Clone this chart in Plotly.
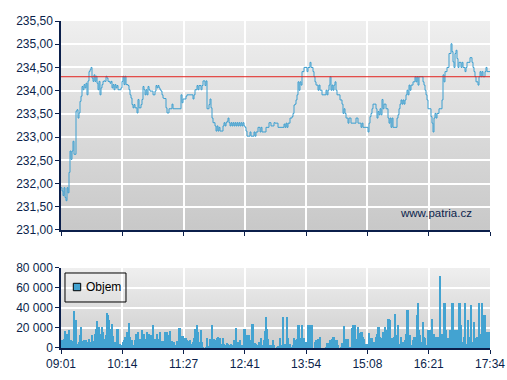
import base64
import plotly.graph_objects as go

# ---------------- data ----------------
x_tick_labels = ["09:01", "10:14", "11:27", "12:41", "13:54", "15:08", "16:21", "17:34"]
session_minutes = 513  # 09:01 -> 17:34

price_tick_values = [231.0, 231.5, 232.0, 232.5, 233.0, 233.5, 234.0, 234.5, 235.0, 235.5]
price_tick_labels = ["231,00", "231,50", "232,00", "232,50", "233,00", "233,50",
                     "234,00", "234,50", "235,00", "235,50"]
volume_tick_values = [0, 20000, 40000, 60000, 80000]
volume_tick_labels = ["0", "20 000", "40 000", "60 000", "80 000"]

reference_price = 234.30
legend_label = "Objem"
watermark = "www.patria.cz"

price = [
    231.91, 231.84, 231.74, 231.91, 231.70, 231.63, 231.91, 231.80, 232.24, 232.70,
    232.52, 232.70, 232.91, 232.63, 232.63, 233.56, 233.59, 233.41, 233.52, 233.77,
    233.88, 234.09, 234.02, 234.13, 234.06, 234.16, 233.91, 234.21, 234.41, 234.45,
    234.50, 234.27, 234.20, 234.34, 234.20, 234.31, 234.16, 234.02, 234.20, 233.91,
    234.06, 234.13, 234.20, 234.21, 234.20, 234.31, 234.27, 234.20, 234.20, 234.16,
    234.20, 234.06, 234.13, 234.02, 234.13, 234.06, 234.11, 234.02, 234.02, 234.02,
    234.06, 234.20, 234.31, 234.13, 234.31, 234.13, 234.13, 234.11, 234.02, 233.91,
    233.84, 233.70, 233.63, 233.70, 233.63, 233.63, 233.52, 233.81, 233.63, 233.63,
    233.70, 233.81, 234.09, 234.02, 233.91, 234.02, 233.91, 234.09, 234.02, 233.99,
    233.99, 233.99, 233.91, 233.91, 233.99, 234.11, 234.06, 234.11, 234.06, 234.02,
    233.99, 233.91, 233.84, 233.83, 233.83, 233.63, 233.52, 233.52,
    233.61, 233.61, 233.61, 233.71, 233.61, 233.61, 233.61, 233.61, 233.61, 233.61,
    233.61, 233.61, 233.91, 233.74, 233.82, 233.82, 233.82, 233.88, 233.91, 233.91,
    233.91, 233.91, 233.91, 233.91, 233.82, 233.91, 234.02, 234.02, 234.11, 234.02,
    234.11, 234.11, 234.02, 234.11, 234.21, 234.21, 234.11, 234.21, 233.61, 233.61,
    233.70, 233.82, 233.63, 233.41, 233.31, 233.31, 233.24, 233.13, 233.24, 233.13,
    233.21, 233.13, 233.13, 233.13, 233.24, 233.31, 233.24, 233.31, 233.34, 233.41,
    233.31, 233.24, 233.31, 233.24, 233.31, 233.24, 233.31, 233.24, 233.31, 233.24,
    233.31, 233.24, 233.31, 233.24, 233.31, 233.24, 233.21, 233.13, 233.02, 233.02,
    233.02, 233.11, 233.02, 233.02, 233.02, 233.11, 233.02, 233.11, 233.11, 233.21,
    233.21, 233.11, 233.21, 233.11, 233.11, 233.11, 233.11, 233.21, 233.21, 233.21,
    233.31, 233.31, 233.24, 233.24, 233.24, 233.31,
    233.30, 233.30, 233.30, 233.21, 233.21, 233.21, 233.21, 233.21, 233.21, 233.28,
    233.21, 233.30, 233.21, 233.30, 233.30, 233.41, 233.41, 233.44, 233.51, 233.69,
    233.71, 233.80, 233.91, 234.19, 234.01, 234.19, 234.12, 234.41, 234.41, 234.50,
    234.50, 234.50, 234.41, 234.50, 234.50, 234.61, 234.50, 234.50, 234.41, 234.30,
    234.19, 234.12, 234.12, 234.01, 234.12, 234.01, 234.01, 233.91, 233.91, 233.91,
    233.91, 234.01, 233.91, 234.01, 234.12, 234.30, 234.01, 234.12, 234.01, 234.12,
    234.19, 234.01, 233.91, 233.91, 233.91, 233.80, 233.80, 233.71, 233.51, 233.61,
    233.51, 233.41, 233.41, 233.30, 233.41, 233.41, 233.30, 233.30, 233.30, 233.30,
    233.30, 233.41, 233.41, 233.30, 233.30, 233.30, 233.21, 233.30, 233.21, 233.21,
    233.21, 233.21, 233.21, 233.11, 233.30, 233.44, 233.51, 233.61, 233.71, 233.71,
    233.71, 233.61, 233.41, 233.55, 233.48, 233.61, 233.48,
    233.81, 233.61, 233.71, 233.71, 233.61, 233.61, 233.41, 233.30, 233.41, 233.21,
    233.41, 233.21, 233.21, 233.21, 233.21, 233.41, 233.48, 233.61, 233.71, 233.80,
    233.71, 233.80, 233.71, 233.80, 233.91, 234.01, 233.91, 234.12, 234.01, 234.12,
    234.12, 234.19, 234.19, 234.30, 234.19, 234.30, 234.12, 234.30, 234.30, 234.30,
    234.30, 234.19, 234.12, 234.01, 233.91, 233.80, 233.61, 233.61, 233.61, 233.44,
    233.30, 233.11, 233.41, 233.51, 233.41, 233.51, 233.51, 233.61, 233.61, 233.61,
    233.80, 234.34, 234.19, 234.41, 234.41, 234.50, 234.50, 234.80, 234.80, 235.01,
    234.84, 234.62, 234.50, 234.80, 234.87, 234.69, 234.50, 234.61, 234.61, 234.50,
    234.61, 234.50, 234.50, 234.41, 234.50, 234.61, 234.61, 234.61, 234.71, 234.71,
    234.61, 234.50, 234.41, 234.30, 234.19, 234.19, 234.12, 234.30, 234.41, 234.30,
    234.41, 234.30, 234.30, 234.41, 234.50, 234.41, 234.41, 234.41, 234.41,
]

# volume in thousands of shares
volume_k = [
    6, 7.7, 4.3, 9.3, 16.7, 6.7, 14.3, 9.3, 17.7, 6,
    7.7, 6, 6.7, 36.7, 6.7, 27.7, 4.3, 2.7, 6, 13.3,
    21, 6.7, 4.3, 7.7, 6, 7.7, 6, 4.3, 9.3, 6,
    4.3, 12.7, 6.7, 2.7, 14.3, 19.3, 26.7, 17.7, 21, 14.3,
    6, 21, 16, 9.3, 4.3, 12.7, 35.3, 32.7, 27.7, 9.3,
    19.3, 24.3, 12, 6, 3.3, 6, 19.3, 19.3, 2.7, 4.3,
    2.7, 3.3, 6, 7.7, 11, 6, 16, 7.7, 25.3, 11,
    6, 7.7, 2.7, 3.3, 7.7, 14.3, 8.7, 16, 2.7, 9.3,
    1, 17.7, 6, 14.3, 9.3, 6, 16, 7.7, 14.3, 4.3,
    12.7, 7.7, 22.7, 4.3, 9.3, 4.3, 14.3, 6, 8.7, 16,
    2.7, 6.7, 6.7, 6, 16, 8.7, 16, 12.7,
    12, 16.7, 1, 6.7, 2.7, 6, 1, 2.7, 6.7, 6.7,
    20, 20, 9.3, 12, 12, 4.3, 10, 10, 7.7, 6,
    6.7, 7.7, 2.7, 4.3, 6, 10, 19.3, 10, 23.3, 16,
    6, 4.3, 17.7, 6, 1, 0, 0, 1, 10, 1,
    2, 9.3, 7.7, 23.3, 8.7, 8.7, 7.7, 4.3, 10, 11,
    7.7, 10, 4.3, 1, 10, 4.3, 2.7, 1, 5.3, 4.3,
    2.7, 2.7, 4.3, 3.3, 2.7, 7.7, 3.3, 20, 2.7, 6,
    2.7, 7.7, 3.3, 1, 2.7, 19.3, 19.3, 8.7, 12.7, 12.7,
    12.7, 7.7, 7.7, 24.3, 24.3, 5.3, 5.3, 4.3, 1, 2.7,
    6, 6, 10, 2.7, 1, 7.7, 17, 31, 19.3, 9.3,
    3.3, 2.7, 1, 2.7, 7.7, 2.7,
    0, 0, 1, 2, 2, 10, 2, 2.7, 31, 4.3,
    4.3, 0, 31, 10, 4.3, 4.3, 1, 1, 2.7, 10,
    7.7, 7.7, 8.7, 22.7, 22.7, 4.3, 10, 22.7, 4.3, 10,
    6, 6, 6, 22.7, 22.7, 4.3, 22.7, 22.7, 0, 0,
    6, 7.7, 4.3, 8.7, 6, 11, 0, 0, 0, 0,
    0, 1, 5.3, 5.3, 2.7, 7.7, 6, 8.7, 11, 11,
    2.7, 7.7, 7.7, 2.7, 0, 0, 1, 5.3, 2.7, 22,
    2.7, 8.7, 8.7, 8.7, 1, 1, 1, 20, 23.3, 17.7,
    22.7, 7.7, 8.7, 21, 7.7, 15.3, 16, 16, 11, 8.7,
    4.3, 4.3, 4.3, 4.3, 15.3, 10, 10, 10, 6, 4.3,
    6, 11, 14.3, 21, 21, 11, 10,
    9.3, 16, 8.7, 21, 11, 17.7, 29.3, 29.3, 27.7, 6,
    10, 6, 11, 34.3, 12, 12.7, 23.3, 4.3, 1, 11,
    2, 6, 6, 7.7, 14.3, 37.7, 37.7, 12.7, 12.7, 2.7,
    1, 7.7, 11, 11, 2.7, 33.3, 45.3, 17.7, 12.7, 6,
    2.7, 26, 11, 10, 2.7, 1, 17.7, 2.7, 17.7, 17.7,
    29.3, 14.3, 14.3, 6, 11, 11, 11, 11, 72, 10,
    14.3, 12, 45.3, 45.3, 17.7, 6, 10, 6, 17.7, 17.7,
    45.3, 45.3, 6, 17.7, 16.7, 17.7, 4.3, 45.3, 45.3, 22.7,
    6, 2, 11, 45.3, 4.3, 4.3, 27.7, 11, 4.3, 43.3,
    6, 2, 26, 10, 10, 11, 2.7, 45.3, 9.3, 14.3,
    45.3, 27.7, 33.3, 33.3, 16, 16, 16, 16, 16,
]

# ---------------- derived ----------------
n = len(price)
step = session_minutes / (n - 1)
minutes = [i * step for i in range(n)]
volume = [v * 1000 for v in volume_k]
tick_positions = [i * session_minutes / (len(x_tick_labels) - 1) for i in range(len(x_tick_labels))]

NAVY = "#0b1f4b"
BLUE = "#43a3d1"
LINE_BLUE = "#3c9fd0"
FONT = "Liberation Sans, Arial, sans-serif"

# plot area geometry (fractions of paper)
price_domain = [0.361, 1.0]
volume_domain = [0.0, 0.245]


def gradient(top, bottom):
    svg = ('<svg xmlns="http://www.w3.org/2000/svg" width="10" height="100" '
           'preserveAspectRatio="none"><defs><linearGradient id="g" x1="0" y1="0" x2="0" y2="1">'
           f'<stop offset="0" stop-color="{top}"/><stop offset="1" stop-color="{bottom}"/>'
           '</linearGradient></defs><rect width="10" height="100" fill="url(#g)"/></svg>')
    return "data:image/svg+xml;base64," + base64.b64encode(svg.encode()).decode()


fig = go.Figure()

fig.add_trace(go.Scatter(
    x=minutes, y=price, mode="lines", line=dict(color=LINE_BLUE, width=1.0, shape="hv"),
    xaxis="x", yaxis="y", showlegend=False, hoverinfo="skip", name="Cena",
))

fig.add_trace(go.Bar(
    x=minutes, y=volume, width=step, marker=dict(color=BLUE, line=dict(width=0)),
    xaxis="x2", yaxis="y2", showlegend=False, hoverinfo="skip", name=legend_label,
))

axis_common = dict(
    showline=True, linecolor=NAVY, linewidth=1.5,
    ticks="outside", ticklen=4, tickcolor=NAVY, tickwidth=1,
    gridcolor="white", gridwidth=1.5, zeroline=False, automargin=False,
    tickfont=dict(family=FONT, size=12, color=NAVY),
)

fig.update_layout(
    width=507, height=380,
    margin=dict(l=61, r=17, t=21, b=32, autoexpand=False),
    paper_bgcolor="white", plot_bgcolor="rgba(0,0,0,0)",
    bargap=0, showlegend=False,
    xaxis=dict(domain=[0, 1], range=[0, session_minutes], tickvals=tick_positions,
               ticktext=x_tick_labels, showticklabels=False, anchor="y", **axis_common),
    yaxis=dict(domain=price_domain, range=[231.0, 235.5], tickvals=price_tick_values,
               ticktext=price_tick_labels, anchor="x", **axis_common),
    xaxis2=dict(domain=[0, 1], range=[0, session_minutes], tickvals=tick_positions,
                ticktext=x_tick_labels, anchor="y2", **axis_common),
    yaxis2=dict(domain=volume_domain, range=[0, 80000], tickvals=volume_tick_values,
                ticktext=volume_tick_labels, anchor="x2", **axis_common),
    images=[
        dict(source=gradient("#efefef", "#c8c8c8"), xref="paper", yref="paper",
             x=0, y=price_domain[1], sizex=1, sizey=price_domain[1] - price_domain[0],
             sizing="stretch", layer="below", xanchor="left", yanchor="top"),
        dict(source=gradient("#efefef", "#cdcdcd"), xref="paper", yref="paper",
             x=0, y=volume_domain[1], sizex=1, sizey=volume_domain[1] - volume_domain[0],
             sizing="stretch", layer="below", xanchor="left", yanchor="top"),
    ],
    shapes=[
        dict(type="line", xref="x domain", x0=0, x1=1, yref="y",
             y0=reference_price, y1=reference_price,
             line=dict(color="#e3231f", width=1), layer="above"),
        # legend frame and swatch for the volume series
        dict(type="rect", xref="paper", yref="paper", x0=0.0093, x1=0.1515,
             y0=0.1407, y1=0.2294, line=dict(color="black", width=1),
             fillcolor="rgba(0,0,0,0)", layer="above"),
        dict(type="rect", xref="paper", yref="paper", x0=0.0287, x1=0.0459,
             y0=0.1752, y1=0.1979, line=dict(color="black", width=1),
             fillcolor=BLUE, layer="above"),
    ],
    annotations=[
        dict(text=watermark, xref="x domain", yref="y domain",
             x=0.962, y=0.082, xanchor="right", yanchor="middle", showarrow=False,
             font=dict(family=FONT, size=11.5, color=NAVY)),
        dict(text=legend_label, xref="paper", yref="paper", x=0.053, y=0.1865,
             xanchor="left", yanchor="middle", showarrow=False,
             font=dict(family=FONT, size=12, color="black")),
    ],
)

page_fix = (
    "var h=document.documentElement, b=document.body;"
    "h.style.margin='0'; h.style.padding='0'; h.style.overflow='hidden';"
    "b.style.margin='0'; b.style.padding='0'; b.style.overflow='hidden';"
)

fig.write_html(
    "out.html",
    config={"displayModeBar": False},
    post_script=page_fix,
)
